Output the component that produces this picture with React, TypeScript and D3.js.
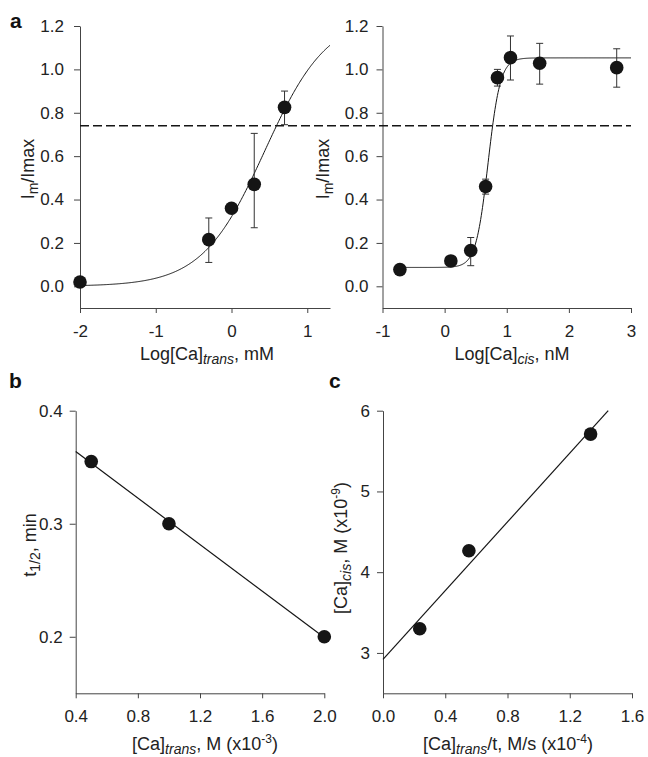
import React, { useEffect, useRef } from "react";
import * as d3 from "d3";

const W = 648;
const H = 757;

// panel a, left: Im/Imax against log [Ca]trans (mM)
const transLogCa = [-2, -0.3, 0, 0.3, 0.7];
const transRatio = [0.02, 0.215, 0.36, 0.47, 0.825];
const transErrLo = [null, 0.11, null, 0.27, 0.745];
const transErrHi = [null, 0.315, null, 0.705, 0.9];
const transFit = [0, 1.25, 0.44, 1.05]; // bottom, top, logEC50, hill slope

// panel a, right: Im/Imax against log [Ca]cis (nM)
const cisLogCa = [-0.72, 0.1, 0.42, 0.66, 0.85, 1.06, 1.53, 2.77];
const cisRatio = [0.077, 0.117, 0.165, 0.46, 0.962, 1.054, 1.028, 1.008];
const cisErrLo = [null, null, 0.095, 0.425, 0.923, 0.951, 0.932, 0.918];
const cisErrHi = [null, null, 0.225, 0.494, 1.0, 1.154, 1.12, 1.095];
const cisFit = [0.087, 1.053, 0.7, 4.4];

const threshold = 0.74;

// panel b
const halfTimeCa = [0.5, 1.0, 2.0];
const halfTime = [0.355, 0.3, 0.2];

// panel c
const rateCa = [0.236, 0.552, 1.334];
const cisCa = [3.3, 4.265, 5.71];

const ratioTicks = [0, 0.2, 0.4, 0.6, 0.8, 1.0, 1.2];
const transTicks = [-2, -1, 0, 1];
const cisTicks = [-1, 0, 1, 2, 3];
const halfTimeTicks = [0.2, 0.3, 0.4];
const caTransTicks = [0.4, 0.8, 1.2, 1.6, 2.0];
const cisCaTicks = [3, 4, 5, 6];
const rateTicks = [0, 0.4, 0.8, 1.2, 1.6];

const FONT = "'Liberation Sans', Arial, sans-serif";
const AXIS = "#444";
const INK = "#151515";
const TICK_FS = 17;
const TITLE_FS = 18;
const SUB_FS = 14;

const hill = ([b, t, ec, n]: number[], x: number) =>
  b + (t - b) / (1 + Math.pow(10, (ec - x) * n));

const fitLine = (xs: number[], ys: number[]) => {
  const mx = d3.mean(xs)!;
  const my = d3.mean(ys)!;
  const sxy = d3.sum(xs, (x, i) => (x - mx) * (ys[i] - my));
  const sxx = d3.sum(xs, (x) => (x - mx) ** 2);
  const m = sxy / sxx;
  return { m, b: my - m * mx };
};

type Part = [string, "n" | "sub" | "subi" | "sup"];

const richText = (sel: any, parts: Part[]) => {
  let shift = 0;
  parts.forEach(([txt, kind]) => {
    const target = kind === "sub" || kind === "subi" ? 4 : kind === "sup" ? -7 : 0;
    const t = sel.append("tspan").attr("dy", target - shift).text(txt);
    shift = target;
    if (kind === "sup") t.attr("font-size", 12);
    else if (kind !== "n") t.attr("font-size", SUB_FS);
    if (kind === "subi") t.attr("font-style", "italic");
  });
};

const drawAxes = (
  svg: any, x: any, y: any, xTicks: number[], yTicks: number[], xFmt: any, yFmt: any, yPad: number
) => {
  const x0 = x.range()[0];
  const y0 = y.range()[0];
  const gx = svg
    .append("g")
    .attr("transform", `translate(0,${y0})`)
    .call(d3.axisBottom(x).tickValues(xTicks).tickFormat(xFmt).tickSize(5).tickPadding(12).tickSizeOuter(0));
  const gy = svg
    .append("g")
    .attr("transform", `translate(${x0},0)`)
    .call(d3.axisLeft(y).tickValues(yTicks).tickFormat(yFmt).tickSize(6).tickPadding(yPad).tickSizeOuter(0));
  [gx, gy].forEach((g) => {
    g.attr("font-family", FONT).attr("font-size", TICK_FS);
    g.select(".domain").attr("stroke", AXIS);
    g.selectAll(".tick line").attr("stroke", AXIS);
    g.selectAll(".tick text").attr("fill", "#222");
  });
};

const drawPoints = (svg: any, x: any, y: any, xs: number[], ys: number[], lo?: (number | null)[], hi?: (number | null)[]) => {
  if (lo && hi) {
    xs.forEach((xv, i) => {
      if (lo[i] == null || hi[i] == null) return;
      const g = svg.append("g").attr("stroke", "#333").attr("stroke-width", 1);
      g.append("line").attr("x1", x(xv)).attr("x2", x(xv)).attr("y1", y(lo[i])).attr("y2", y(hi[i]));
      [lo[i], hi[i]].forEach((v) =>
        g.append("line").attr("x1", x(xv) - 3.5).attr("x2", x(xv) + 3.5).attr("y1", y(v)).attr("y2", y(v))
      );
    });
  }
  svg
    .append("g")
    .selectAll("circle")
    .data(xs)
    .join("circle")
    .attr("cx", (d: number) => x(d))
    .attr("cy", (_: number, i: number) => y(ys[i]))
    .attr("r", 6.8)
    .attr("fill", INK);
};

const yTitle = (svg: any, cx: number, cy: number, parts: Part[]) => {
  const t = svg
    .append("text")
    .attr("transform", `translate(${cx},${cy}) rotate(-90)`)
    .attr("text-anchor", "middle")
    .attr("font-family", FONT)
    .attr("font-size", TITLE_FS)
    .attr("fill", "#222");
  richText(t, parts);
};

const xTitle = (svg: any, cx: number, by: number, parts: Part[]) => {
  const t = svg
    .append("text")
    .attr("x", cx)
    .attr("y", by)
    .attr("text-anchor", "middle")
    .attr("font-family", FONT)
    .attr("font-size", TITLE_FS)
    .attr("fill", "#222");
  richText(t, parts);
};

const Chart = () => {
  const svgRef = useRef<SVGSVGElement>(null);

  useEffect(() => {
    const svg = d3.select(svgRef.current);
    svg.selectAll("*").remove();

    const int = (d: any) => String(d);
    const f1 = (d: any) => d3.format(".1f")(d);

    // ---- panel a ----
    const yA = d3.scaleLinear().domain([-0.1, 1.2]).range([308, 26]);
    const xL = d3.scaleLinear().domain([-2, 1.3]).range([80, 330]);
    const xR = d3.scaleLinear().domain([-1, 3]).range([382.5, 631]);

    drawAxes(svg, xL, yA, transTicks, ratioTicks, int, f1, 10);
    drawAxes(svg, xR, yA, cisTicks, ratioTicks, int, f1, 8);

    svg
      .append("line")
      .attr("x1", xL(-2))
      .attr("x2", xR(3))
      .attr("y1", yA(threshold))
      .attr("y2", yA(threshold))
      .attr("stroke", INK)
      .attr("stroke-width", 1.5)
      .attr("stroke-dasharray", "9,4");

    const curve = d3.line<number[]>().x((d) => d[0]).y((d) => d[1]);
    const transCurve = d3.range(-2, 1.3001, 0.01).map((v) => [xL(v), yA(hill(transFit, v))]);
    const cisCurve = d3.range(-0.72, 3.0001, 0.01).map((v) => [xR(v), yA(hill(cisFit, v))]);
    [transCurve, cisCurve].forEach((c) =>
      svg.append("path").datum(c).attr("d", curve).attr("fill", "none").attr("stroke", INK).attr("stroke-width", 1)
    );

    drawPoints(svg, xL, yA, transLogCa, transRatio, transErrLo, transErrHi);
    drawPoints(svg, xR, yA, cisLogCa, cisRatio, cisErrLo, cisErrHi);

    const imParts: Part[] = [["I", "n"], ["m", "sub"], ["/Imax", "n"]];
    yTitle(svg, 34, 169, imParts);
    yTitle(svg, 329, 169, imParts);
    xTitle(svg, 207, 360, [["Log[Ca]", "n"], ["trans", "subi"], [", mM", "n"]]);
    xTitle(svg, 512, 360, [["Log[Ca]", "n"], ["cis", "subi"], [", nM", "n"]]);

    // ---- panel b ----
    const xB = d3.scaleLinear().domain([0.4, 2.0]).range([75.7, 324.3]);
    const yB = d3.scaleLinear().domain([0.15, 0.4]).range([693.3, 410.7]);
    drawAxes(svg, xB, yB, caTransTicks, halfTimeTicks, f1, f1, 7);
    const lb = fitLine(halfTimeCa, halfTime);
    svg
      .append("line")
      .attr("x1", xB(0.4))
      .attr("y1", yB(lb.b + lb.m * 0.4))
      .attr("x2", xB(2.0))
      .attr("y2", yB(lb.b + lb.m * 2.0))
      .attr("stroke", INK)
      .attr("stroke-width", 1.2);
    drawPoints(svg, xB, yB, halfTimeCa, halfTime);
    yTitle(svg, 36, 545, [["t", "n"], ["1/2", "sub"], [", min", "n"]]);
    xTitle(svg, 205, 750, [["[Ca]", "n"], ["trans", "subi"], [", M (x10", "n"], ["-3", "sup"], [")", "n"]]);

    // ---- panel c ----
    const xC = d3.scaleLinear().domain([0, 1.6]).range([383, 632]);
    const yC = d3.scaleLinear().domain([2.5, 6]).range([693.3, 410.7]);
    drawAxes(svg, xC, yC, rateTicks, cisCaTicks, f1, int, 7);
    const lc = fitLine(rateCa, cisCa);
    const xEnd = Math.min(1.6, (6 - lc.b) / lc.m);
    svg
      .append("line")
      .attr("x1", xC(0))
      .attr("y1", yC(lc.b))
      .attr("x2", xC(xEnd))
      .attr("y2", yC(lc.b + lc.m * xEnd))
      .attr("stroke", INK)
      .attr("stroke-width", 1.2);
    drawPoints(svg, xC, yC, rateCa, cisCa);
    yTitle(svg, 347, 548, [["[Ca]", "n"], ["cis", "subi"], [", M (x10", "n"], ["-9", "sup"], [")", "n"]]);
    xTitle(svg, 508, 750, [["[Ca]", "n"], ["trans", "subi"], ["/t, M/s (x10", "n"], ["-4", "sup"], [")", "n"]]);

    // panel letters
    const letters: [string, number, number][] = [["a", 10, 28], ["b", 9, 388], ["c", 329, 388]];
    letters.forEach(([s, x, y]) =>
      svg
        .append("text")
        .attr("x", x)
        .attr("y", y)
        .attr("font-family", FONT)
        .attr("font-weight", "bold")
        .attr("font-size", 21)
        .attr("fill", "#111")
        .text(s)
    );
  }, []);

  return (
    <svg
      ref={svgRef}
      width={W}
      height={H}
      style={{ position: "absolute", left: 0, top: 0, background: "#fff" }}
    />
  );
};

export default function App() {
  return <Chart />;
}
